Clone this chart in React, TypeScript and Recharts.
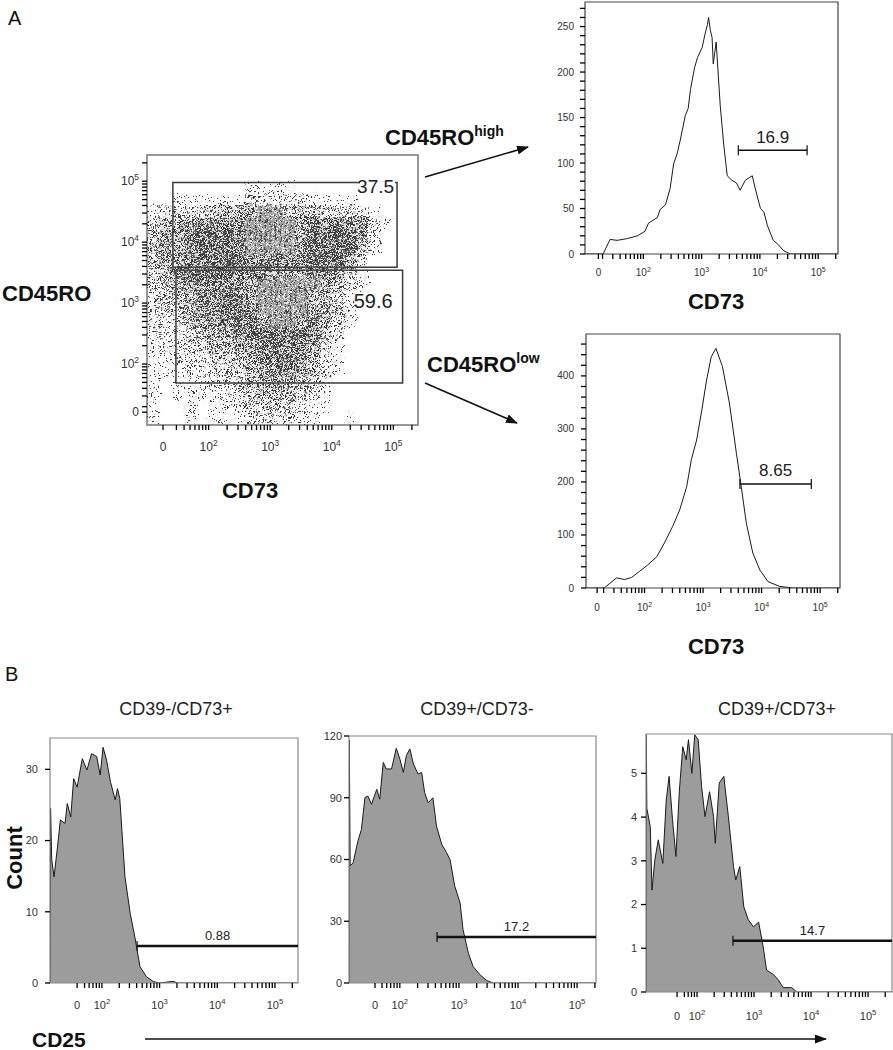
import React from "react";
import {
  ScatterChart,
  Scatter,
  AreaChart,
  Area,
  XAxis,
  YAxis,
  ReferenceArea,
  ReferenceLine,
  ReferenceDot,
} from "recharts";

const FONT = "'Liberation Sans', Arial, Helvetica, sans-serif";

// ---------- panel A, dot plot (CD73 x CD45RO) ----------
// dot density per 0.2-decade cell (0 empty .. 7 densest), top row first
const DOT_X_MIN = 1.0;
const DOT_Y_MAX = 5.4;
const DOT_CELL = 0.2;
const DOT_ROWS = [
  "0000000000000000000000",
  "0000000000000000000000",
  "0000000011110000000000",
  "0011111122222111100000",
  "1223344555544433321000",
  "3445666644445666652100",
  "4556777633335777752000",
  "4556777744446777741000",
  "4556777766666777520000",
  "3467777666555666310000",
  "3356666653444454210000",
  "2345667653333453100000",
  "2335667764334553100000",
  "2234566775445652100000",
  "2223455677777642000000",
  "1223344567776531000000",
  "1122233456666421000000",
  "1112223345665421000000",
  "1011122345554310000000",
  "1011112234443210000000",
  "1001011233332110000000",
  "1001011122221100100000",
];
// cells at the core of each cloud, which the picture draws in lighter grey
const DOT_CORE = [
  "0000000000000000000000",
  "0000000000000000000000",
  "0000000000000000000000",
  "0000000000000000000000",
  "0000000001100000000000",
  "0000000011110000000000",
  "0000000011110000000000",
  "0000000011110000000000",
  "0000000000000000000000",
  "0000000000000000000000",
  "0000000001111100000000",
  "0000000001111000000000",
  "0000000001111000000000",
  "0000000000110000000000",
  "0000000000000000000000",
  "0000000000000000000000",
  "0000000000000000000000",
  "0000000000000000000000",
  "0000000000000000000000",
  "0000000000000000000000",
  "0000000000000000000000",
  "0000000000000000000000",
];
const DOT_GATE_LABELS = ["37.5", "59.6"];
const DOT_GATE_X1 = [1.42, 1.47];
const DOT_GATE_X2 = [5.06, 5.15];
const DOT_GATE_Y1 = [3.59, 1.69];
const DOT_GATE_Y2 = [4.98, 3.54];
const DOT_X_MAJOR = [1.26, 2, 3, 4, 5];
const DOT_Y_MAJOR = [1.21, 2, 3, 4, 5];

const LOG_LABELS = ["0", "2", "3", "4", "5"];

// ---------- panel A, CD73 histograms ----------
const HI_X = [1.0, 1.31, 1.43, 1.55, 1.73, 1.9, 2.03, 2.09, 2.24, 2.29, 2.38, 2.46, 2.52, 2.58, 2.63, 2.72, 2.77, 2.81, 2.88, 2.93, 3.01, 3.06, 3.1, 3.12, 3.15, 3.18, 3.2, 3.25, 3.32, 3.38, 3.44, 3.52, 3.6, 3.66, 3.75, 3.82, 3.87, 3.92, 4.01, 4.07, 4.13, 4.23, 4.32, 4.4, 4.52, 5.34];
const HI_COUNT = [0, 0, 16, 15, 17, 20, 25, 34, 40, 49, 54, 72, 99, 110, 124, 152, 160, 181, 205, 216, 227, 242, 252, 260, 246, 238, 209, 233, 163, 120, 86, 81, 78, 70, 81, 84, 86, 72, 50, 46, 31, 15, 10, 4, 0, 0];
const HI_GATE = { x1: 3.63, x2: 4.81, y: 114, label: "16.9" };
const HI_X_MAJOR = [1.23, 2, 3, 4, 5];
const HI_Y_MAJOR = [0, 50, 100, 150, 200, 250];

const LO_X = [1.0, 1.31, 1.52, 1.66, 1.78, 1.91, 2.05, 2.21, 2.34, 2.48, 2.6, 2.72, 2.8, 2.89, 2.98, 3.06, 3.14, 3.22, 3.33, 3.45, 3.57, 3.66, 3.74, 3.85, 3.97, 4.11, 4.31, 4.54, 5.34];
const LO_COUNT = [0, 0, 19, 16, 20, 31, 43, 59, 85, 116, 147, 191, 242, 279, 336, 392, 436, 452, 418, 349, 254, 185, 122, 66, 34, 12, 3, 0, 0];
const LO_GATE = { x1: 3.63, x2: 4.85, y: 196, label: "8.65" };
const LO_X_MAJOR = [1.19, 2, 3, 4, 5];
const LO_Y_MAJOR = [0, 100, 200, 300, 400];

// ---------- panel B, CD25 histograms ----------
const B_TITLES = ["CD39-/CD73+", "CD39+/CD73-", "CD39+/CD73+"];

const B1_X = [1.1, 1.11, 1.13, 1.17, 1.23, 1.28, 1.36, 1.4, 1.46, 1.51, 1.57, 1.66, 1.74, 1.82, 1.91, 1.97, 2.02, 2.08, 2.15, 2.23, 2.27, 2.31, 2.4, 2.49, 2.57, 2.66, 2.77, 2.89, 3.0, 3.2, 3.25, 3.3, 5.4];
const B1_COUNT = [0, 24.5, 17.3, 14.9, 19.1, 22.9, 22.4, 25.2, 23.3, 28.7, 27.5, 31.5, 29.9, 32.2, 31.8, 29.2, 33.1, 31.3, 28.2, 25.7, 27.3, 25.9, 14.9, 9.8, 6.5, 2.3, 0.9, 0.2, 0, 0.2, 0.2, 0, 0];
const B1_GATE = { x1: 2.61, x2: 5.4, y: 5.2, label: "0.88" };
const B1_X_MAJOR = [1.57, 2, 3, 4, 5];
const B1_Y_MAJOR = [0, 10, 20, 30];

const B2_X = [1.14, 1.145, 1.16, 1.21, 1.29, 1.35, 1.41, 1.46, 1.52, 1.61, 1.66, 1.72, 1.77, 1.86, 1.94, 2.0, 2.06, 2.11, 2.17, 2.23, 2.31, 2.37, 2.42, 2.48, 2.56, 2.62, 2.71, 2.79, 2.85, 2.93, 3.02, 3.07, 3.16, 3.24, 3.36, 3.47, 3.58, 5.32];
const B2_COUNT = [0, 118, 57, 58.4, 68.9, 74.6, 90.1, 90.8, 86.8, 94.1, 89.3, 107.2, 104, 104, 114, 108.9, 102.3, 110.5, 113.7, 106.4, 101.5, 102.3, 92.5, 87.6, 90, 76.3, 67.3, 63.4, 60, 47, 38.9, 25.9, 14.5, 8, 3.9, 1.2, 0, 0];
const B2_GATE = { x1: 2.63, x2: 5.32, y: 22.4, label: "17.2" };
const B2_X_MAJOR = [1.58, 2, 3, 4, 5];
const B2_Y_MAJOR = [0, 30, 60, 90, 120];

const B3_X = [1.105, 1.11, 1.12, 1.18, 1.21, 1.26, 1.32, 1.4, 1.46, 1.51, 1.57, 1.63, 1.69, 1.75, 1.81, 1.85, 1.91, 1.96, 2.02, 2.08, 2.14, 2.22, 2.29, 2.32, 2.39, 2.47, 2.55, 2.64, 2.68, 2.75, 2.82, 2.9, 2.99, 3.08, 3.16, 3.22, 3.34, 3.43, 3.51, 3.66, 3.75, 5.42];
const B3_COUNT = [0, 5.88, 4.2, 3.78, 2.33, 3.02, 3.48, 2.94, 4.39, 4.93, 3.94, 3.1, 4.6, 5.61, 5.31, 5.77, 5.0, 5.88, 5.77, 4.7, 4.01, 4.58, 4.01, 3.4, 4.78, 4.93, 4.01, 2.87, 2.56, 2.87, 1.95, 1.65, 1.49, 1.6, 1.04, 0.5, 0.4, 0.27, 0.1, 0.1, 0, 0];
const B3_GATE = { x1: 2.63, x2: 5.42, y: 1.17, label: "14.7" };
const B3_X_MAJOR = [1.65, 2, 3, 4, 5];
const B3_Y_MAJOR = [0, 1, 2, 3, 4, 5];

// stipple layout of one 5x5 tile; level k of the dot plot fills the first few spots
const STIPPLE = [[0, 0], [3, 2], [1, 4], [4, 1], [2, 3], [0, 2], [3, 4], [1, 1], [4, 3], [2, 0], [0, 4], [3, 0], [1, 3], [4, 2], [2, 1], [0, 1], [3, 3], [1, 0], [4, 4], [2, 2], [0, 3], [3, 1], [1, 2], [4, 0], [2, 4]];
const STIPPLE_COUNT = [0, 2, 4, 6, 8, 10, 13, 16];

const TICK_LEN = 5;

// log-decade minor tick positions (2..9 x 10^n) above the zero position
function logMinors(zero: number, max: number) {
  const out: number[] = [];
  for (let n = 1; n <= 5; n++) {
    for (let k = 2; k <= 9; k++) {
      const v = n + Math.log10(k);
      if (v > zero + 0.06 && v < max) out.push(v);
    }
  }
  return out;
}

function logText(x: number, y: number, label: string, size: number, anchor: string) {
  if (label === "0") {
    return (
      <text x={x} y={y} fontSize={size} textAnchor={anchor} fill="#333" fontFamily={FONT}>
        0
      </text>
    );
  }
  return (
    <text x={x} y={y} fontSize={size} textAnchor={anchor} fill="#333" fontFamily={FONT}>
      10
      <tspan dy={-size * 0.45} fontSize={size * 0.7}>
        {label}
      </tspan>
    </text>
  );
}

// tick labels only; the tick marks come from recharts' own tickLine
const logXTick = (majors: number[], size: number, gap: number) => (p: any) => {
  const i = majors.indexOf(p.payload.value);
  if (i < 0) return <g />;
  return logText(p.x, p.y + gap - TICK_LEN, LOG_LABELS[i], size, "middle");
};

const logYTick = (majors: number[], size: number, gap: number) => (p: any) => {
  const i = majors.indexOf(p.payload.value);
  if (i < 0) return <g />;
  return logText(p.x - gap + TICK_LEN, p.y + size * 0.35, LOG_LABELS[i], size, "end");
};

const linYTick = (majors: number[], size: number, gap: number) => (p: any) => {
  if (majors.indexOf(p.payload.value) < 0) return <g />;
  return (
    <text x={p.x - gap + TICK_LEN} y={p.y + size * 0.35} fontSize={size} textAnchor="end" fill="#333" fontFamily={FONT}>
      {p.payload.value}
    </text>
  );
};

const TICK_LINE = { stroke: "#000", strokeWidth: 1.3 };

function DotPlot() {
  const W = 340;
  const H = 330;
  const yAxisW = 47;
  const xAxisH = 45;
  const mTop = 15;
  const mRight = 22;
  const xDom: [number, number] = [1.0, 5.4];
  const yDom: [number, number] = [1.0, 5.43];
  const cw = ((W - yAxisW - mRight) * DOT_CELL) / (xDom[1] - xDom[0]);
  const ch = ((H - mTop - xAxisH) * DOT_CELL) / (yDom[1] - yDom[0]);

  const cells: { x: number; y: number; d: number; core: boolean }[] = [];
  DOT_ROWS.forEach((row, j) =>
    row.split("").forEach((c, i) => {
      const d = Number(c);
      if (d > 0)
        cells.push({
          x: DOT_X_MIN + DOT_CELL * (i + 0.5),
          y: DOT_Y_MAX - DOT_CELL * (j + 0.5),
          d,
          core: DOT_CORE[j][i] === "1",
        });
    })
  );

  const cellShape = (p: any) => {
    const c = p.payload || p;
    return (
      <rect
        x={p.cx - cw / 2}
        y={p.cy - ch / 2}
        width={cw + 0.3}
        height={ch + 0.3}
        fill={c.core ? "url(#core)" : `url(#dl${c.d})`}
        filter="url(#ragged)"
      />
    );
  };

  const gateLabel = (i: number) => (lp: any) => {
    const vb = lp.viewBox;
    if (i === 0) {
      const x = vb.x + vb.width - 3;
      const y = vb.y + 11;
      return (
        <g>
          <rect x={x - 36} y={y - 12} width={37} height={14} fill="#fff" />
          <text x={x} y={y} textAnchor="end" fontSize={19} fill="#222" fontFamily={FONT}>
            {DOT_GATE_LABELS[i]}
          </text>
        </g>
      );
    }
    return (
      <text x={vb.x + vb.width - 10} y={vb.y + 38} textAnchor="end" fontSize={20} fill="#222" fontFamily={FONT}>
        {DOT_GATE_LABELS[i]}
      </text>
    );
  };

  return (
    <div style={{ position: "absolute", left: 100, top: 140 }}>
      <ScatterChart width={W} height={H} margin={{ top: mTop, right: mRight, left: 0, bottom: 0 }}>
        <XAxis
          type="number"
          dataKey="x"
          domain={xDom}
          allowDataOverflow
          ticks={[...DOT_X_MAJOR, ...logMinors(DOT_X_MAJOR[0], xDom[1])]}
          interval={0}
          height={xAxisH}
          tickSize={TICK_LEN}
          tickMargin={0}
          axisLine={false}
          tickLine={TICK_LINE}
          tick={logXTick(DOT_X_MAJOR, 12, 26)}
        />
        <YAxis
          type="number"
          dataKey="y"
          domain={yDom}
          allowDataOverflow
          ticks={[...DOT_Y_MAJOR, ...logMinors(DOT_Y_MAJOR[0], yDom[1])]}
          interval={0}
          width={yAxisW}
          tickSize={TICK_LEN}
          tickMargin={0}
          axisLine={false}
          tickLine={TICK_LINE}
          tick={logYTick(DOT_Y_MAJOR, 12, 8)}
        />
        <Scatter data={cells} shape={cellShape} isAnimationActive={false} />
        {DOT_GATE_LABELS.map((g, i) => (
          <ReferenceArea
            key={g}
            x1={DOT_GATE_X1[i]}
            x2={DOT_GATE_X2[i]}
            y1={DOT_GATE_Y1[i]}
            y2={DOT_GATE_Y2[i]}
            fill="none"
            fillOpacity={0}
            stroke="#3a3a3a"
            strokeWidth={1.5}
            label={gateLabel(i)}
          />
        ))}
        <ReferenceArea x1={xDom[0]} x2={xDom[1]} y1={yDom[0]} y2={yDom[1]} fill="none" fillOpacity={0} stroke="#777" strokeWidth={1.5} />
      </ScatterChart>
    </div>
  );
}

type Gate = { x1: number; x2: number; y: number; label: string };

type HistProps = {
  left: number;
  top: number;
  width: number;
  height: number;
  yAxisW: number;
  xAxisH: number;
  mTop: number;
  mRight: number;
  xs: number[];
  counts: number[];
  xDomain: [number, number];
  yMax: number;
  xMajors: number[];
  yMajors: number[];
  yMinorStep: number;
  filled: boolean;
  gate: Gate;
  bothCaps: boolean;
  tickFont: number;
  xLabelGap: number;
  yLabelGap: number;
  gateFont: number;
  gateWidth: number;
  frame: string;
};

function FlowHist(p: HistProps) {
  const data = p.xs.map((x, i) => ({ x, y: p.counts[i] }));
  const plotH = p.height - p.mTop - p.xAxisH;
  const cap = (5 * p.yMax) / plotH;
  const yMinors: number[] = [];
  if (p.yMinorStep > 0) {
    for (let v = p.yMinorStep; v < p.yMax; v += p.yMinorStep) {
      if (p.yMajors.indexOf(v) < 0) yMinors.push(v);
    }
  }
  const g = p.gate;
  return (
    <div style={{ position: "absolute", left: p.left, top: p.top }}>
      <AreaChart width={p.width} height={p.height} data={data} margin={{ top: p.mTop, right: p.mRight, left: 0, bottom: 0 }}>
        <XAxis
          type="number"
          dataKey="x"
          domain={p.xDomain}
          allowDataOverflow
          ticks={[...p.xMajors, ...logMinors(p.xMajors[0], p.xDomain[1])]}
          interval={0}
          height={p.xAxisH}
          tickSize={TICK_LEN}
          tickMargin={0}
          axisLine={false}
          tickLine={TICK_LINE}
          tick={logXTick(p.xMajors, p.tickFont, p.xLabelGap)}
        />
        <YAxis
          type="number"
          domain={[0, p.yMax]}
          allowDataOverflow
          ticks={[...p.yMajors, ...yMinors]}
          interval={0}
          width={p.yAxisW}
          tickSize={TICK_LEN}
          tickMargin={0}
          axisLine={false}
          tickLine={TICK_LINE}
          tick={linYTick(p.yMajors, p.tickFont, p.yLabelGap)}
        />
        <Area
          type="linear"
          dataKey="y"
          stroke="#1a1a1a"
          strokeWidth={1}
          fill={p.filled ? "#9c9c9c" : "none"}
          fillOpacity={1}
          dot={false}
          activeDot={false}
          isAnimationActive={false}
        />
        <ReferenceArea x1={p.xDomain[0]} x2={p.xDomain[1]} y1={0} y2={p.yMax} fill="none" fillOpacity={0} stroke={p.frame} strokeWidth={1.2} />
        <ReferenceLine segment={[{ x: g.x1, y: g.y }, { x: g.x2, y: g.y }]} stroke="#111" strokeWidth={p.gateWidth} />
        <ReferenceLine segment={[{ x: g.x1, y: g.y - cap }, { x: g.x1, y: g.y + cap }]} stroke="#111" strokeWidth={1.2} />
        {p.bothCaps && (
          <ReferenceLine segment={[{ x: g.x2, y: g.y - cap }, { x: g.x2, y: g.y + cap }]} stroke="#111" strokeWidth={1.2} />
        )}
        <ReferenceDot
          x={(g.x1 + g.x2) / 2}
          y={g.y}
          r={0}
          fill="none"
          stroke="none"
          label={{ value: g.label, position: "top", offset: p.gateFont * 0.45, fontSize: p.gateFont, fill: "#222", fontFamily: FONT }}
        />
      </AreaChart>
    </div>
  );
}

function Overlay() {
  const bold = { fontFamily: FONT, fontWeight: 700, fill: "#111" } as const;
  return (
    <svg width={893} height={1050} style={{ position: "absolute", left: 0, top: 0 }}>
      <defs>
        {STIPPLE_COUNT.map((n, k) => (
          <pattern key={k} id={`dl${k}`} width="5" height="5" patternUnits="userSpaceOnUse">
            {STIPPLE.slice(0, n).map(([sx, sy], j) => (
              <rect key={j} x={sx} y={sy} width={1.15} height={1.15} fill={j % 3 === 2 ? "#777" : "#3a3a3a"} />
            ))}
          </pattern>
        ))}
        <pattern id="core" width="5" height="5" patternUnits="userSpaceOnUse">
          {STIPPLE.slice(0, 19).map(([sx, sy], j) => (
            <rect key={j} x={sx} y={sy} width={1.15} height={1.15} fill={j % 5 === 0 ? "#444" : "#a0a0a0"} />
          ))}
        </pattern>
        <filter id="ragged" x="-40%" y="-40%" width="180%" height="180%" filterUnits="objectBoundingBox">
          <feTurbulence type="fractalNoise" baseFrequency="0.3" numOctaves="2" seed="7" result="noise" />
          <feDisplacementMap in="SourceGraphic" in2="noise" scale="9" xChannelSelector="R" yChannelSelector="G" />
        </filter>
        <marker id="arrowHead" markerWidth="12" markerHeight="9" refX="11" refY="4.5" orient="auto" markerUnits="userSpaceOnUse">
          <path d="M0,0 L12,4.5 L0,9 z" fill="#111" />
        </marker>
      </defs>

      <text x={8} y={25} fontSize={20} fontFamily={FONT} fill="#111">A</text>
      <text x={5} y={681} fontSize={20} fontFamily={FONT} fill="#111">B</text>

      <text x={2} y={301} fontSize={22} {...bold}>CD45RO</text>
      <text x={250} y={498} fontSize={22} textAnchor="middle" {...bold}>CD73</text>
      <text x={716} y={309} fontSize={22} textAnchor="middle" {...bold}>CD73</text>
      <text x={716} y={654} fontSize={22} textAnchor="middle" {...bold}>CD73</text>

      <text x={385} y={145} fontSize={22} {...bold}>
        CD45RO
        <tspan dy={-9} fontSize={14}>high</tspan>
      </text>
      <text x={427} y={372} fontSize={22} {...bold}>
        CD45RO
        <tspan dy={-9} fontSize={14}>low</tspan>
      </text>
      <line x1={425} y1={177} x2={528} y2={147} stroke="#111" strokeWidth={1.6} markerEnd="url(#arrowHead)" />
      <line x1={425} y1={383} x2={517} y2={423} stroke="#111" strokeWidth={1.6} markerEnd="url(#arrowHead)" />

      {B_TITLES.map((t, i) => (
        <text key={t} x={[176, 477, 777][i]} y={715} fontSize={18} textAnchor="middle" fontFamily={FONT} fill="#222">
          {t}
        </text>
      ))}
      <text transform="translate(22,858) rotate(-90)" fontSize={22} textAnchor="middle" {...bold}>Count</text>
      <text x={32} y={1047} fontSize={21} {...bold}>CD25</text>
      <line x1={145} y1={1039} x2={826} y2={1039} stroke="#111" strokeWidth={1.6} markerEnd="url(#arrowHead)" />
    </svg>
  );
}

export default function App() {
  return (
    <div style={{ position: "absolute", left: 0, top: 0, width: 893, height: 1050, overflow: "hidden", background: "#fff" }}>
      <Overlay />
      <DotPlot />
      <FlowHist
        left={540} top={0} width={320} height={300} yAxisW={45} xAxisH={46} mTop={2} mRight={22}
        xs={HI_X} counts={HI_COUNT} xDomain={[1.0, 5.34]} yMax={277}
        xMajors={HI_X_MAJOR} yMajors={HI_Y_MAJOR} yMinorStep={10} filled={false}
        gate={HI_GATE} bothCaps tickFont={10} xLabelGap={22} yLabelGap={11} gateFont={17} gateWidth={1.6} frame="#444"
      />
      <FlowHist
        left={540} top={320} width={322} height={300} yAxisW={46} xAxisH={32} mTop={14} mRight={22}
        xs={LO_X} counts={LO_COUNT} xDomain={[1.0, 5.34]} yMax={479}
        xMajors={LO_X_MAJOR} yMajors={LO_Y_MAJOR} yMinorStep={20} filled={false}
        gate={LO_GATE} bothCaps tickFont={10} xLabelGap={23} yLabelGap={12} gateFont={17} gateWidth={1.6} frame="#444"
      />
      <FlowHist
        left={20} top={720} width={300} height={300} yAxisW={30} xAxisH={37} mTop={18} mRight={22}
        xs={B1_X} counts={B1_COUNT} xDomain={[1.1, 5.4]} yMax={34.4}
        xMajors={B1_X_MAJOR} yMajors={B1_Y_MAJOR} yMinorStep={0} filled
        gate={B1_GATE} bothCaps={false} tickFont={11} xLabelGap={26} yLabelGap={12} gateFont={13} gateWidth={2.5} frame="#888"
      />
      <FlowHist
        left={320} top={720} width={298} height={300} yAxisW={29} xAxisH={37} mTop={16} mRight={22}
        xs={B2_X} counts={B2_COUNT} xDomain={[1.14, 5.32]} yMax={120}
        xMajors={B2_X_MAJOR} yMajors={B2_Y_MAJOR} yMinorStep={0} filled
        gate={B2_GATE} bothCaps={false} tickFont={11} xLabelGap={26} yLabelGap={7} gateFont={13} gateWidth={2.5} frame="#888"
      />
      <FlowHist
        left={610} top={720} width={283} height={310} yAxisW={36} xAxisH={38} mTop={14} mRight={1}
        xs={B3_X} counts={B3_COUNT} xDomain={[1.105, 5.42]} yMax={5.9}
        xMajors={B3_X_MAJOR} yMajors={B3_Y_MAJOR} yMinorStep={0} filled
        gate={B3_GATE} bothCaps={false} tickFont={11} xLabelGap={28} yLabelGap={9} gateFont={13} gateWidth={2.5} frame="#888"
      />
    </div>
  );
}
